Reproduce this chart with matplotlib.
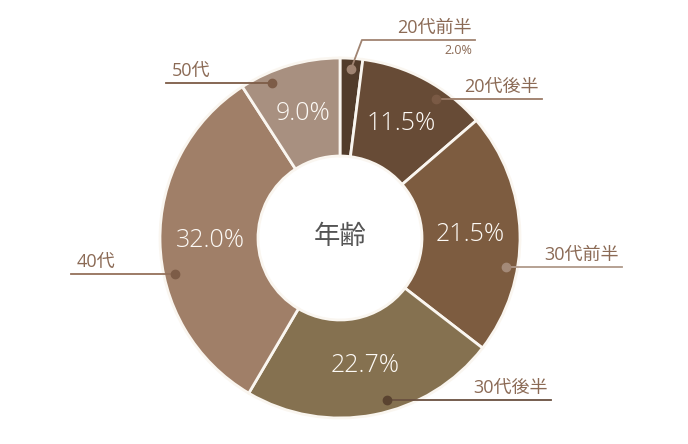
import numpy as np
import matplotlib.pyplot as plt

plt.rcParams['font.family'] = ['Open Sans', 'Noto Sans CJK JP', 'DejaVu Sans']

# data
categories = ['20代前半', '20代後半', '30代前半', '30代後半', '40代', '50代']
values = [2.0, 11.5, 21.5, 22.7, 32.0, 9.0]
colors = ['#523c2b', '#674b36', '#7d5c40', '#857150', '#a07f68', '#a89080']

# leader line styling (layout only)
dot_angles = [3.7, 34.7, 100, 164, 257.7, 336.2]   # deg clockwise from top
dot_colors = ['#a08472', '#7a5a45', '#a48a78', '#5a4330', '#7d5c47', '#7d5c47']
line_colors = ['#a08472', '#9c7c68', '#b09a8a', '#6a5040', '#94715b', '#7d5c47']
line_ends = [475, 542, 622, 551, 71, 166]
label_col = '#8b6a55'

W, H = 688, 444
cx, cy = 340, H - 238
R, r_in = 180, 82

fig = plt.figure(figsize=(6.88, 4.44), dpi=100)
ax = fig.add_axes([0, 0, 1, 1])

wedges, _ = ax.pie(values, colors=colors, startangle=90, counterclock=False,
                   center=(cx, cy), radius=R,
                   wedgeprops=dict(width=R - r_in, edgecolor='#faf6f0', linewidth=2))
ax.set_xlim(0, W)
ax.set_ylim(0, H)
ax.set_aspect('equal')
ax.axis('off')

total = sum(values)
cum = np.cumsum([0] + values)
for i, v in enumerate(values):
    if i == 0:
        continue
    mid = (cum[i] + v / 2) / total * 360
    rr = 130
    x = cx + rr * np.sin(np.radians(mid))
    y = cy + rr * np.cos(np.radians(mid))
    ax.text(x, y, f'{v:.1f}%', color='#fdfaf6', fontsize=18, ha='center', va='center',
            fontweight='light')

ax.text(cx, cy, '年齢', color='#555555', fontsize=19, ha='center', va='center')

for i, cat in enumerate(categories):
    a = np.radians(dot_angles[i])
    dr = 169
    dx = cx + dr * np.sin(a)
    dy = cy + dr * np.cos(a)
    xe = line_ends[i]
    if i == 0:
        ky = H - 40
        kx = dx + 11
        ax.plot([dx, kx, xe], [dy, ky, ky], color=line_colors[i], lw=1.3, zorder=3)
        ax.text(xe - 3, ky + 3, cat, color=label_col, fontsize=13, ha='right', va='bottom')
        ax.text(xe - 3, ky - 4, f'{values[i]:.1f}%', color=label_col, fontsize=9,
                ha='right', va='top')
    else:
        ax.plot([dx, xe], [dy, dy], color=line_colors[i], lw=1.3, zorder=3)
        if xe > dx:
            ax.text(xe - 3, dy + 3, cat, color=label_col, fontsize=13, ha='right', va='bottom')
        else:
            ax.text(xe + 6, dy + 3, cat, color=label_col, fontsize=13, ha='left', va='bottom')
    ax.plot(dx, dy, 'o', color=dot_colors[i], ms=6, zorder=4)

fig.savefig('out.png', dpi=100)
